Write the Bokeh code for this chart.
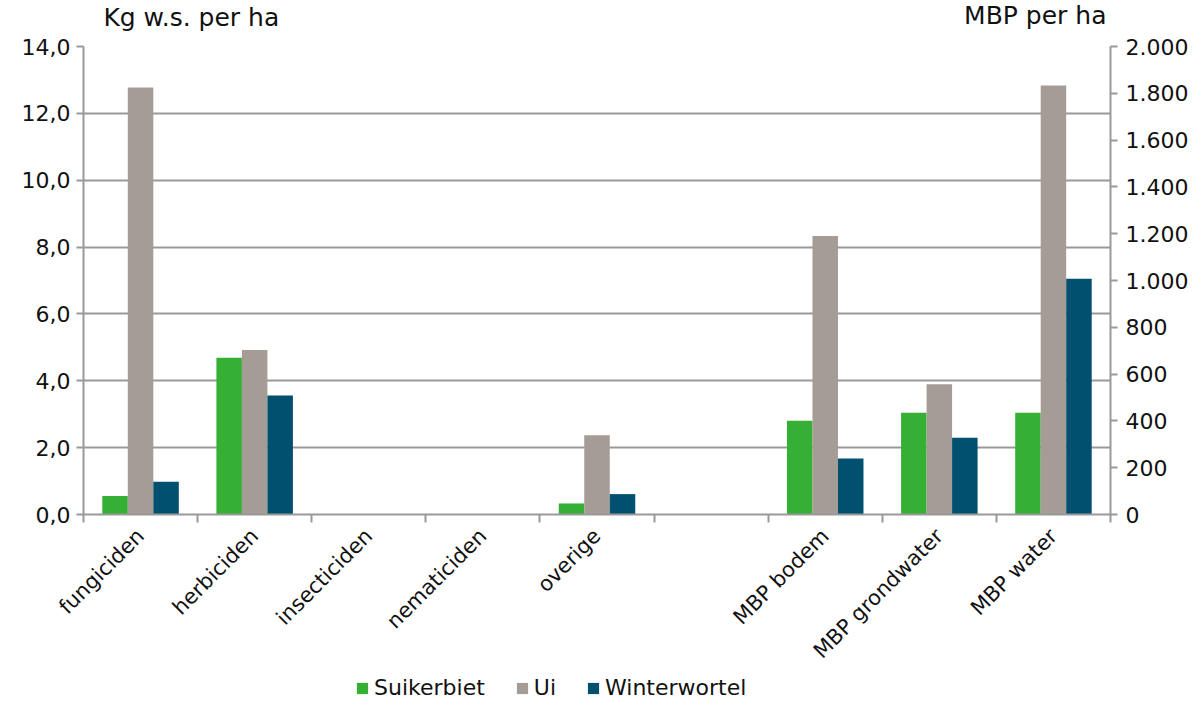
import numpy as np
from bokeh.plotting import figure
from bokeh.layouts import column
from bokeh.models import (ColumnDataSource, Range1d, LinearAxis, FixedTicker,
                          CustomJSTickFormatter, Legend, LegendItem)
from bokeh.core.properties import value
from bokeh.transform import dodge
from bokeh.embed import file_html
from bokeh.resources import INLINE

# ---- data ----
categories = ["fungiciden", "herbiciden", "insecticiden", "nematiciden", "overige",
              "", "MBP bodem", "MBP grondwater", "MBP water"]
series = ["Suikerbiet", "Ui", "Winterwortel"]
colors = ["#35B035", "#A59C95", "#02506F"]

# left axis: kg w.s. per ha (first five categories)
kg_categories = ["fungiciden", "herbiciden", "insecticiden", "nematiciden", "overige"]
suikerbiet_kg = [0.55, 4.69, 0.0, 0.0, 0.33]
ui_kg = [12.77, 4.92, 0.0, 0.0, 2.37]
winterwortel_kg = [0.98, 3.56, 0.0, 0.0, 0.61]

# right axis: MBP per ha (last three categories)
mbp_categories = ["MBP bodem", "MBP grondwater", "MBP water"]
suikerbiet_mbp = [401, 435, 435]
ui_mbp = [1190, 557, 1833]
winterwortel_mbp = [239, 328, 1007]

left_ticks = [0, 2, 4, 6, 8, 10, 12, 14]
right_ticks = [0, 200, 400, 600, 800, 1000, 1200, 1400, 1600, 1800, 2000]
left_title = "Kg w.s. per ha"
right_title = "MBP per ha"

FONT = "DejaVu Sans"
GRID = "#999999"
TXT = "#111111"
W = 1187
HEAD_H = 34
LEG_H = 28
N = len(categories)

x_range = Range1d(0, N)


def bare(fig):
    fig.outline_line_color = None
    fig.grid.grid_line_color = None
    return fig


# ---- header with the two axis titles ----
head = bare(figure(width=W, height=HEAD_H, x_range=x_range, y_range=Range1d(HEAD_H, 0),
                   output_backend="svg", toolbar_location=None, x_axis_type=None,
                   y_axis_type=None, min_border=0))
head.text(x=[0.175], y=[16.5], text=[left_title], text_font=value(FONT), text_font_size="25px",
          text_color=TXT, text_baseline="middle", text_align="left")
head.text(x=[N], y=[14.5], text=[right_title], text_font=value(FONT), text_font_size="25px",
          text_color=TXT, text_baseline="middle", text_align="right")

# ---- main chart ----
idx = {c: i + 0.5 for i, c in enumerate(categories)}
kg_src = ColumnDataSource(dict(x=[idx[c] for c in kg_categories],
                               Suikerbiet=suikerbiet_kg, Ui=ui_kg, Winterwortel=winterwortel_kg))
mbp_src = ColumnDataSource(dict(x=[idx[c] for c in mbp_categories],
                                Suikerbiet=suikerbiet_mbp, Ui=ui_mbp, Winterwortel=winterwortel_mbp))

p = figure(frame_width=1027, frame_height=468,
           x_range=x_range, y_range=Range1d(0, 14),
           output_backend="svg", toolbar_location=None,
           min_border_left=83, min_border_right=77, min_border_top=12, min_border_bottom=0)
p.extra_y_ranges = {"right": Range1d(0, 2000)}
p.outline_line_color = None

bw = 0.2235
offsets = [-bw, 0.0, bw]
for s, c, o in zip(series, colors, offsets):
    p.vbar(x=dodge("x", o), top=s, width=bw, source=kg_src, fill_color=c, line_color=None)
    p.vbar(x=dodge("x", o), top=s, width=bw, source=mbp_src, fill_color=c, line_color=None,
           y_range_name="right")

# x axis: labels at category centres, ticks between categories
xa = p.xaxis[0]
xa.ticker = FixedTicker(ticks=[i + 0.5 for i in range(N)], minor_ticks=list(range(N + 1)))
xa.major_label_overrides = {i + 0.5: c for i, c in enumerate(categories)}
xa.major_tick_line_color = None
xa.major_tick_out = 0
xa.major_tick_in = 0
xa.minor_tick_line_color = GRID
xa.minor_tick_line_width = 2
xa.minor_tick_out = 8
xa.minor_tick_in = 0
xa.axis_line_color = GRID
xa.axis_line_width = 2
xa.major_label_orientation = np.pi / 4
xa.major_label_text_font = FONT
xa.major_label_text_font_size = "21px"
xa.major_label_text_color = TXT
xa.major_label_standoff = 10

# left axis
ya = p.yaxis[0]
ya.ticker = FixedTicker(ticks=left_ticks)
ya.formatter = CustomJSTickFormatter(code="return tick.toFixed(1).replace('.', ',');")
ya.axis_line_color = GRID
ya.axis_line_width = 2
ya.major_tick_line_color = GRID
ya.major_tick_line_width = 2
ya.major_tick_out = 7
ya.major_tick_in = 0
ya.minor_tick_line_color = None
ya.major_label_text_font = FONT
ya.major_label_text_font_size = "22px"
ya.major_label_text_color = TXT
ya.major_label_standoff = 6

# right axis
ra = LinearAxis(y_range_name="right", ticker=FixedTicker(ticks=right_ticks))
ra.formatter = CustomJSTickFormatter(
    code="return tick.toFixed(0).replace(/\\B(?=(\\d{3})+(?!\\d))/g, '.');")
ra.axis_line_color = GRID
ra.axis_line_width = 2
ra.major_tick_line_color = GRID
ra.major_tick_line_width = 2
ra.major_tick_out = 7
ra.major_tick_in = 0
ra.minor_tick_line_color = None
ra.major_label_text_font = FONT
ra.major_label_text_font_size = "22px"
ra.major_label_text_color = TXT
ra.major_label_standoff = 8
p.add_layout(ra, "right")

p.xgrid.grid_line_color = None
p.ygrid.ticker = FixedTicker(ticks=left_ticks)
p.ygrid.grid_line_color = GRID
p.ygrid.grid_line_width = 2

# ---- legend strip (its renderers are hidden; only the legend is drawn) ----
leg = bare(figure(width=W, height=LEG_H, x_range=x_range, y_range=Range1d(1000, 1001),
                  output_backend="svg", toolbar_location=None, x_axis_type=None,
                  y_axis_type=None, min_border=0))
items = []
for s, c, o in zip(series, colors, offsets):
    r = leg.vbar(x=dodge("x", o), top=s, width=bw, source=kg_src, fill_color=c, line_color=None)
    r.visible = False
    items.append(LegendItem(label=s, renderers=[r]))
legend = Legend(items=items, orientation="horizontal", location=(272, 2),
                glyph_width=14, glyph_height=14, label_standoff=5, spacing=30,
                padding=0, margin=0, border_line_color=None, background_fill_alpha=0,
                inactive_fill_alpha=0,
                label_text_font=FONT, label_text_font_size="22px", label_text_color=TXT,
                label_height=22)
leg.add_layout(legend, "center")

layout = column(head, p, leg, spacing=0)
open("out.html", "w").write(file_html(layout, INLINE))
